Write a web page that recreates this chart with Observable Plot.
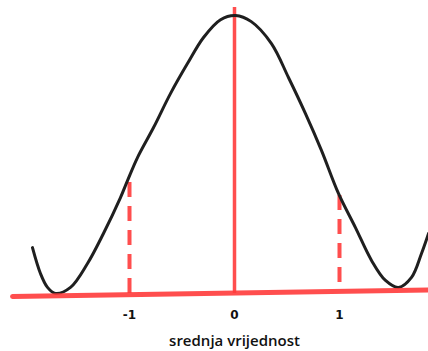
<!DOCTYPE html>
<html>
<head>
<meta charset="utf-8">
<script src="https://cdn.jsdelivr.net/npm/d3@7"></script>
<script src="https://cdn.jsdelivr.net/npm/@observablehq/plot@0.6"></script>
<style>
  html, body { margin: 0; padding: 0; background: #fff; }
  #chart svg { display: block; }
</style>
</head>
<body>
<div id="chart"></div>
<script>
// Bell-like curve (x in standard-deviation units, y relative height)
const curveX = [-1.924, -1.848, -1.781, -1.705, -1.562, -1.400, -1.248, -1.086, -1.019, -0.924, -0.771, -0.610, -0.448, -0.295, -0.133, 0.01,
                 0.160, 0.352, 0.514, 0.676, 0.829, 0.990, 1.152, 1.305, 1.438, 1.562, 1.686, 1.781, 1.848];
const curveY = [0.165, 0.072, 0.022, 0.0, 0.022, 0.108, 0.216, 0.345, 0.406, 0.489, 0.597, 0.719, 0.827, 0.921, 0.985, 1.0,
                 0.978, 0.899, 0.777, 0.647, 0.514, 0.360, 0.237, 0.119, 0.047, 0.022, 0.058, 0.144, 0.216];

// Baseline (slightly tilted in the original drawing)
const baseX = [-2.114, 1.848];
const baseY = [-0.011, 0.013];

// Mean line
const meanX = [0];
const meanTop = [1.029];

// Dashed lines at -1 and +1
const sdX = [-1, 1];
const sdLow = [0, 0.04];
const sdHigh = [0.406, 0.378];

// Tick labels
const tickValues = [-1, 0, 1];
const tickLabels = ["-1", "0", "1"];
const axisLabel = "srednja vrijednost";

const red = "#ff3b3b";

const curve = curveX.map((x, i) => ({x, y: curveY[i]}));
const base = baseX.map((x, i) => ({x, y: baseY[i]}));
const sd = sdX.map((x, i) => ({x, y1: sdLow[i], y2: sdHigh[i]}));
const mean = meanX.map((x, i) => ({x, y2: meanTop[i]}));
const ticks = tickValues.map((v, i) => ({v, t: tickLabels[i]}));

const chart = Plot.plot({
  width: 428,
  height: 351,
  margin: 0,
  x: {domain: [-1, 1], range: [129, 339], axis: null},
  y: {domain: [0, 1], range: [293, 15], axis: null},
  marks: [
    Plot.ruleX(sd, {x: "x", y1: "y1", y2: "y2", stroke: red, strokeWidth: 4, strokeDasharray: "15,9", strokeOpacity: 0.9}),
    Plot.ruleX(mean, {x: "x", y1: 0, y2: "y2", stroke: red, strokeWidth: 3.5, strokeOpacity: 0.9}),
    Plot.line(curve, {x: "x", y: "y", curve: "catmull-rom", stroke: "#1f1f1f", strokeWidth: 3}),
    Plot.line(base, {x: "x", y: "y", stroke: red, strokeWidth: 5, strokeOpacity: 0.9}),
    Plot.text(ticks, {x: "v", text: "t", frameAnchor: "bottom", dy: -36, lineAnchor: "middle",
      fontSize: 12, fontWeight: "bold", fontFamily: "DejaVu Sans", fill: "#111"}),
    Plot.text([axisLabel], {x: () => 0, text: d => d, frameAnchor: "bottom", dy: -10, lineAnchor: "middle",
      fontSize: 15, fontWeight: 600, fontFamily: "Open Sans", fill: "#111"})
  ]
});
document.getElementById("chart").appendChild(chart);
</script>
</body>
</html>
